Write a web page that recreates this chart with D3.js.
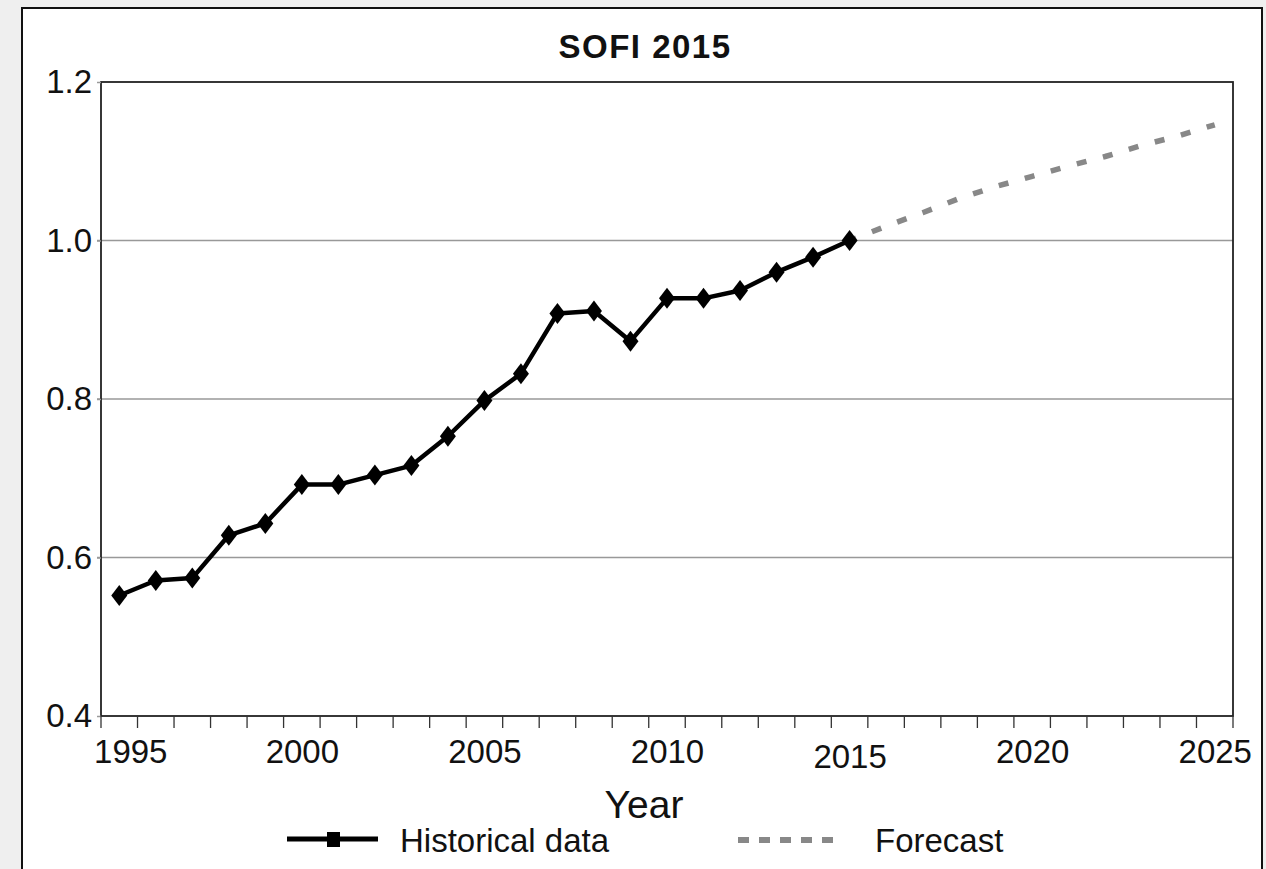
<!DOCTYPE html>
<html>
<head>
<meta charset="utf-8">
<script src="https://cdn.jsdelivr.net/npm/d3@7"></script>
<style>
  html, body { margin: 0; padding: 0; background: #efefef; }
  svg { display: block; }
  text { font-family: "Liberation Sans", Arial, sans-serif; fill: #111; }
</style>
</head>
<body>
<svg id="chart" width="1266" height="869"></svg>
<script>
// ---- data ----
const title = "SOFI 2015";
const xTitle = "Year";
const allYears = d3.range(1995, 2026);
const labelYears = [1995, 2000, 2005, 2010, 2015, 2020, 2025];
const yTicks = [0.4, 0.6, 0.8, 1.0, 1.2];
const histYears = [1995, 1996, 1997, 1998, 1999, 2000, 2001, 2002, 2003, 2004, 2005,
                   2006, 2007, 2008, 2009, 2010, 2011, 2012, 2013, 2014, 2015];
const histValues = [0.552, 0.571, 0.574, 0.628, 0.643, 0.692, 0.692, 0.704, 0.716, 0.753, 0.798,
                    0.832, 0.908, 0.911, 0.873, 0.927, 0.927, 0.937, 0.960, 0.979, 1.000];
const fcYears = [2015, 2016, 2017, 2018, 2019, 2020, 2021, 2022, 2023, 2024, 2025];
const fcValues = [1.000, 1.018, 1.035, 1.053, 1.068, 1.081, 1.094, 1.106, 1.120, 1.132, 1.146];
const legendLabels = ["Historical data", "Forecast"];

// ---- layout ----
const svg = d3.select("#chart");
const L = 101, R = 1233, T = 82, B = 716;

// outer frame
svg.append("rect").attr("x", 22).attr("y", 8).attr("width", 1240).attr("height", 880)
  .attr("fill", "#fff").attr("stroke", "#111").attr("stroke-width", 2);

const xBand = d3.scaleBand().domain(allYears).range([L, R]).padding(0);
const x = d3.scalePoint().domain(allYears).range([L, R]).padding(0.5);
const y = d3.scaleLinear().domain([0.4, 1.2]).range([B, T]);

// gridlines
svg.append("g").selectAll("line").data(yTicks.slice(1, 4)).join("line")
  .attr("x1", L - 4).attr("x2", R).attr("y1", d => y(d)).attr("y2", d => y(d))
  .attr("stroke", "#999").attr("stroke-width", 1.5);

// plot border
svg.append("rect").attr("x", L).attr("y", T).attr("width", R - L).attr("height", B - T)
  .attr("fill", "none").attr("stroke", "#222").attr("stroke-width", 1.8);

// y axis labels
const yAxis = d3.axisLeft(y).tickValues(yTicks).tickFormat(d3.format(".1f")).tickSize(4).tickPadding(5);
const gy = svg.append("g").attr("transform", `translate(${L},0)`).call(yAxis);
gy.select(".domain").remove();
gy.selectAll(".tick line").attr("stroke", "#999").attr("stroke-width", 1.5);
gy.selectAll("text").attr("font-size", 33).attr("fill", "#111")
  .attr("font-family", "'Liberation Sans', Arial, sans-serif");

// x ticks at band boundaries
const edges = allYears.map(d => xBand(d)).concat([R]);
svg.append("g").selectAll("line").data(edges).join("line")
  .attr("x1", d => d).attr("x2", d => d).attr("y1", B).attr("y2", B + 12)
  .attr("stroke", "#333").attr("stroke-width", 1.3);

// x labels
const xAxis = d3.axisBottom(x).tickValues(labelYears).tickSize(0).tickPadding(0).tickFormat(d3.format("d"));
const gx = svg.append("g").attr("transform", `translate(0,${B})`).call(xAxis);
gx.select(".domain").remove();
gx.selectAll("text")
  .attr("font-size", 33).attr("fill", "#111")
  .attr("font-family", "'Liberation Sans', Arial, sans-serif")
  .attr("dy", null)
  .attr("y", d => d === 2015 ? 52 : 47)
  .attr("dx", d => d === 1995 ? 11 : 0);

// title
svg.append("text").attr("x", 645).attr("y", 58).attr("text-anchor", "middle")
  .attr("font-size", 33).attr("font-weight", "bold").attr("letter-spacing", 1.5).text(title);

// x title
svg.append("text").attr("x", 644).attr("y", 818).attr("text-anchor", "middle")
  .attr("font-size", 39).text(xTitle);

// forecast line
const fcLine = d3.line().x(d => x(d[0])).y(d => y(d[1]));
svg.append("path").datum(fcYears.map((d, i) => [d, fcValues[i]]))
  .attr("d", fcLine).attr("fill", "none").attr("stroke", "#888")
  .attr("stroke-width", 5.5).attr("stroke-dasharray", "10,17").attr("stroke-dashoffset", -24);

// historical line
const hist = histYears.map((d, i) => [d, histValues[i]]);
svg.append("path").datum(hist).attr("d", fcLine).attr("fill", "none")
  .attr("stroke", "#000").attr("stroke-width", 4.5).attr("stroke-linejoin", "round");
svg.append("g").selectAll("path").data(hist).join("path")
  .attr("transform", d => `translate(${x(d[0])},${y(d[1])})`)
  .attr("d", "M0,-10.5L8,0L0,10.5L-8,0Z").attr("fill", "#000");

// legend
const lg = svg.append("g");
lg.append("line").attr("x1", 287).attr("x2", 378).attr("y1", 839).attr("y2", 839)
  .attr("stroke", "#000").attr("stroke-width", 5);
lg.append("rect").attr("x", 327).attr("y", 832).attr("width", 13).attr("height", 15).attr("fill", "#000");
lg.append("text").attr("x", 400).attr("y", 852).attr("font-size", 33).text(legendLabels[0]);
lg.append("line").attr("x1", 738).attr("x2", 834).attr("y1", 840).attr("y2", 840)
  .attr("stroke", "#888").attr("stroke-width", 6).attr("stroke-dasharray", "11,10");
lg.append("text").attr("x", 875).attr("y", 852).attr("font-size", 33).text(legendLabels[1]);
</script>
</body>
</html>
